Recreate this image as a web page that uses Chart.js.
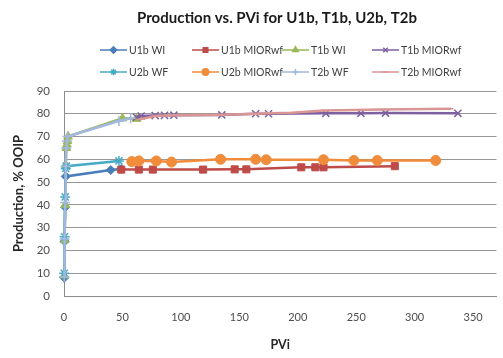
<!DOCTYPE html>
<html><head><meta charset="utf-8">
<script src="https://cdn.jsdelivr.net/npm/chart.js@4.4.1/dist/chart.umd.min.js"></script>
<style>
html,body{margin:0;padding:0;overflow:hidden;background:#fff}
#wrap{width:503px;height:358px;position:relative}
</style>
</head><body><div id="wrap"><canvas id="c"></canvas></div>
<script>
// ---- data ----
const chartTitle = 'Production vs. PVi for U1b, T1b, U2b, T2b';
const seriesNames = ['U1b WI','U1b MIORwf','T1b WI','T1b MIORwf','U2b WF','U2b MIORwf','T2b WF','T2b MIORwf'];

const u1bWI_x = [0.2, 0.5, 1.0, 1.5, 40, 49];
const u1bWI_y = [8, 24, 39, 52.5, 55.3, 55.8];

const u1bMIOR_x = [49, 64, 76, 119, 146, 156, 203, 215, 222, 283];
const u1bMIOR_y = [55.5, 55.5, 55.5, 55.5, 55.6, 55.6, 56.5, 56.5, 56.5, 57];

const t1bWI_x = [0.2, 0.5, 1.0, 1.5, 2.0, 2.5, 3.0, 3.5, 50, 62];
const t1bWI_y = [9, 24.5, 40, 57.5, 65, 66.5, 68, 70, 78, 77.8];

const t1bMIOR_x = [62, 66, 78, 86, 94, 135, 164, 175, 224, 254, 275, 337];
const t1bMIOR_y = [78.5, 79, 79.2, 79.3, 79.4, 79.5, 80, 80, 80.2, 80.2, 80.3, 80.2];

const u2bWF_x = [0.2, 0.5, 1.0, 1.5, 2.0, 47];
const u2bWF_y = [10, 26, 43.5, 56, 57, 59.3];

const u2bMIOR_x = [58, 64, 79, 92, 134, 164, 173, 222, 248, 268, 318];
const u2bMIOR_y = [59, 59.3, 59.3, 58.8, 60, 60, 59.8, 59.8, 59.5, 59.5, 59.5];

const t2bWF_x = [0.2, 0.5, 1.0, 1.5, 2.0, 2.5, 3.0, 47, 57];
const t2bWF_y = [8.5, 25, 41, 57, 65, 68, 70, 76.8, 78];

const t2bMIOR_x = [64, 78, 90, 135, 165, 175, 195, 222, 250, 270, 331];
const t2bMIOR_y = [77.5, 79, 79.3, 79.6, 80, 80.2, 80.5, 81.4, 81.7, 81.9, 82.2];

const xTicks = [0, 50, 100, 150, 200, 250, 300, 350];
const yTicks = [0, 10, 20, 30, 40, 50, 60, 70, 80, 90];

// ---- styles ----
const styles = [
  {color:'#4A7EBB', point:'rectRot',  r:4.5},
  {color:'#BE4B48', point:'rect',     r:5},
  {color:'#98B954', point:'triangle', r:5},
  {color:'#7D60A0', point:'crossRot', r:5},
  {color:'#46AAC5', point:'star',     r:5},
  {color:'#F08C3A', point:'circle',   r:5},
  {color:'#A3B7E0', point:'cross',    r:5},
  {color:'#DA9694', point:'line',     r:2.5}
];
const xs = [u1bWI_x,u1bMIOR_x,t1bWI_x,t1bMIOR_x,u2bWF_x,u2bMIOR_x,t2bWF_x,t2bMIOR_x];
const ys = [u1bWI_y,u1bMIOR_y,t1bWI_y,t1bMIOR_y,u2bWF_y,u2bMIOR_y,t2bWF_y,t2bMIOR_y];

const datasets = seriesNames.map((name, i) => {
  const s = styles[i];
  const lineStyle = ['crossRot','cross','star','line'].includes(s.point);
  return {
    label: name,
    data: xs[i].map((x, k) => ({x: x, y: ys[i][k]})),
    showLine: true,
    borderColor: s.color,
    backgroundColor: s.color,
    borderWidth: 2.5,
    pointStyle: s.point,
    pointRadius: s.r,
    pointHoverRadius: s.r,
    pointBackgroundColor: s.color,
    pointBorderColor: s.color,
    pointBorderWidth: lineStyle ? 1.5 : 1,
    tension: 0,
    clip: false,
    order: 8 - i
  };
});

Chart.defaults.font.family = 'Lato, "Open Sans", sans-serif';

const headerPlugin = {
  id: 'excelHeader',
  afterDraw(chart) {
    const ctx = chart.ctx;
    ctx.save();
    // title (the reference chart is cropped on the right, so its centre sits at ~277px)
    ctx.font = 'bold 15px Lato, sans-serif';
    ctx.fillStyle = '#1a1a1a';
    ctx.textAlign = 'center';
    ctx.textBaseline = 'middle';
    ctx.fillText(chartTitle, 277, 18);
    // legend in fixed columns
    const cols = [100, 192, 282, 372];
    const rows = [50, 72];
    ctx.font = '10.5px Lato, sans-serif';
    ctx.textAlign = 'left';
    seriesNames.forEach((name, i) => {
      const s = styles[i];
      const x0 = cols[i % 4], y0 = rows[Math.floor(i / 4)];
      ctx.strokeStyle = s.color;
      ctx.fillStyle = s.color;
      ctx.lineWidth = 1.5;
      ctx.beginPath(); ctx.moveTo(x0, y0); ctx.lineTo(x0 + 27, y0); ctx.stroke();
      Chart.helpers.drawPoint(ctx, {pointStyle: s.point, radius: 3.2, borderWidth: 1, rotation: 0}, x0 + 13.5, y0);
      ctx.fillStyle = '#404040';
      ctx.fillText(name, x0 + 29, y0 + 0.5);
    });
    ctx.restore();
  }
};

new Chart(document.getElementById('c'), {
  type: 'scatter',
  data: {datasets: datasets},
  plugins: [headerPlugin],
  options: {
    responsive: true,
    maintainAspectRatio: false,
    devicePixelRatio: 1,
    animation: false,
    layout: {padding: {left: 7, right: 0, top: 91, bottom: 2}},
    plugins: {
      legend: {display: false},
      tooltip: {enabled: false},
      title: {display: false}
    },
    scales: {
      x: {
        type: 'linear', min: 0, max: 370,
        afterBuildTicks: (sc) => { sc.ticks = xTicks.map(v => ({value: v})); },
        ticks: {color: '#4d4d4d', font: {size: 11}, padding: 15},
        grid: {display: false, drawTicks: false},
        border: {display: true, color: '#8c8c8c', width: 1},
        title: {display: true, text: 'PVi', color: '#262626', font: {size: 12.5, weight: 'bold'}, padding: {top: 4, bottom: 4}},
        afterFit: (sc) => { sc.height = 60; }
      },
      y: {
        type: 'linear', min: 0, max: 90,
        afterBuildTicks: (sc) => { sc.ticks = yTicks.map(v => ({value: v})); },
        ticks: {color: '#4d4d4d', font: {size: 11.5}, padding: 14},
        grid: {color: '#969696', drawTicks: false, lineWidth: 1},
        border: {display: true, color: '#8c8c8c', width: 1},
        title: {display: true, text: 'Production, % OOIP', color: '#262626', font: {size: 13, weight: 'bold'}, padding: {top: 4, bottom: 4}},
        afterFit: (sc) => { sc.width = 57; }
      }
    }
  }
});
</script>
</body></html>
